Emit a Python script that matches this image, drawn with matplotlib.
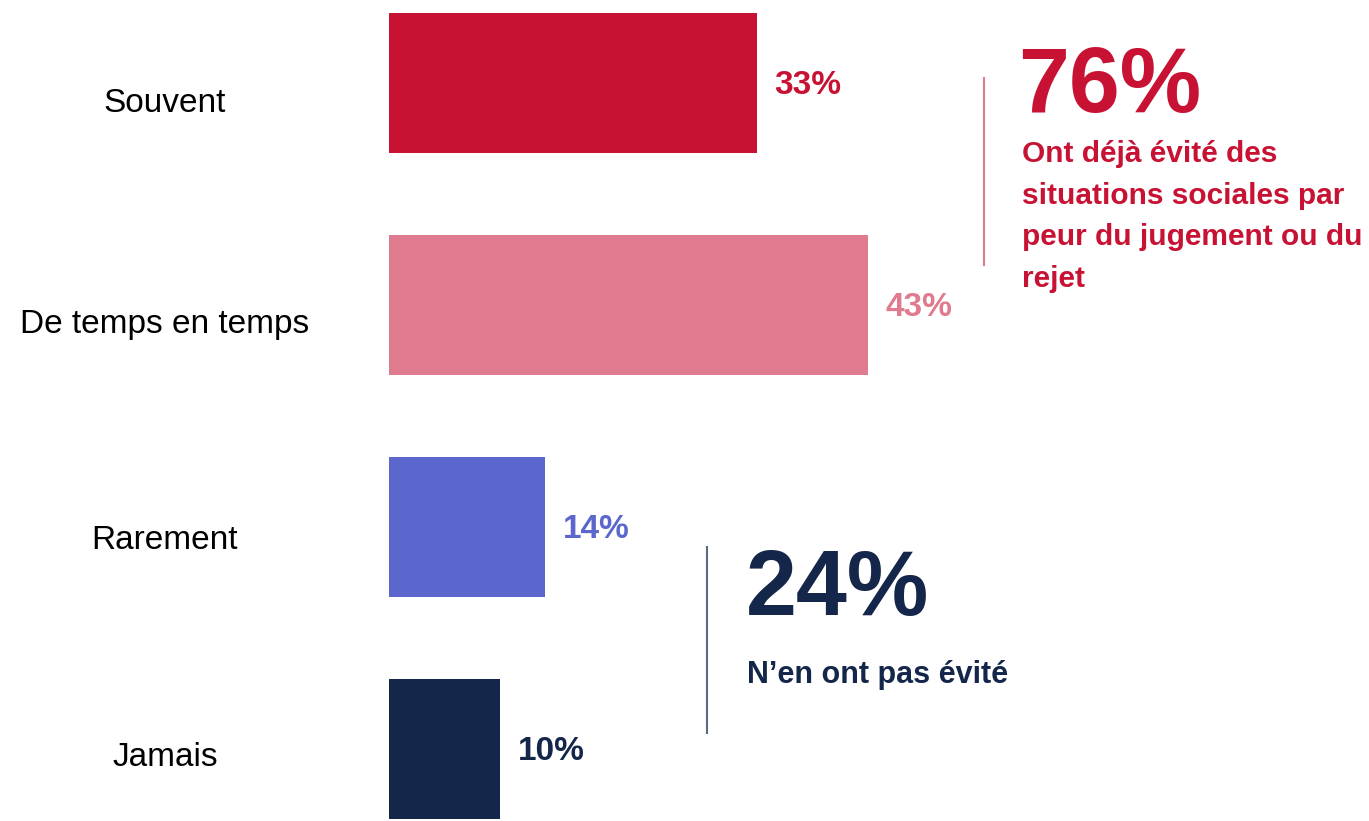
import matplotlib.pyplot as plt

categories = ["Souvent", "De temps en temps", "Rarement", "Jamais"]
values = [33, 43, 14, 10]
colors = ["#C81234", "#E07A8E", "#5B67CC", "#14264A"]

big_top = "76%"
big_top_text = "Ont déjà évité des\nsituations sociales par\npeur du jugement ou du\nrejet"
big_bottom = "24%"
big_bottom_text = "N\u2019en ont pas évité"

plt.rcParams['font.family'] = ['Liberation Sans', 'DejaVu Sans']

W, H = 1369, 821
fig = plt.figure(figsize=(W / 100, H / 100), dpi=100)
# axes from x=389px to the right edge, full height
ax = fig.add_axes([389 / W, 0, 1 - 389 / W, 1])
ppu = 11.14  # pixels per percent
ax.set_xlim(0, (W - 389) / ppu)
step = 222
ax.set_ylim((H - 83) / step, -83 / step)
ax.axis("off")

ypos = list(range(len(categories)))
ax.barh(ypos, values, height=0.63, color=colors)

label_dy = [21, 19, 13, 8]
for y, v, c, cat, dy in zip(ypos, values, colors, categories, label_dy):
    ax.text(v + 1.6, y + 0.01, f"{v}%", color=c, fontsize=24, fontweight="bold",
            va="center", ha="left")
    fig.text(165 / W, 1 - (y * step + 83 + dy) / H, cat, fontsize=24,
             ha="center", va="center", color="black")

# red block
fig.add_artist(plt.Line2D([984 / W, 984 / W], [1 - 78 / H, 1 - 265 / H],
                          color="#E07A8E", lw=1.5))
fig.text(1018 / W, 1 - 88 / H, big_top, color=colors[0], fontsize=66,
         fontweight="bold", va="center", ha="left")
fig.text(1022 / W, 1 - 140 / H, big_top_text, color=colors[0], fontsize=21.5,
         fontweight="bold", va="top", ha="left", linespacing=1.62)

# navy block
fig.add_artist(plt.Line2D([707 / W, 707 / W], [1 - 547 / H, 1 - 733 / H],
                          color="#5A6A85", lw=1.5))
fig.text(746 / W, 1 - 591 / H, big_bottom, color=colors[3], fontsize=66,
         fontweight="bold", va="center", ha="left")
fig.text(747 / W, 1 - 675 / H, big_bottom_text, color=colors[3], fontsize=22,
         fontweight="bold", va="center", ha="left")

fig.savefig("out.png", dpi=100)
